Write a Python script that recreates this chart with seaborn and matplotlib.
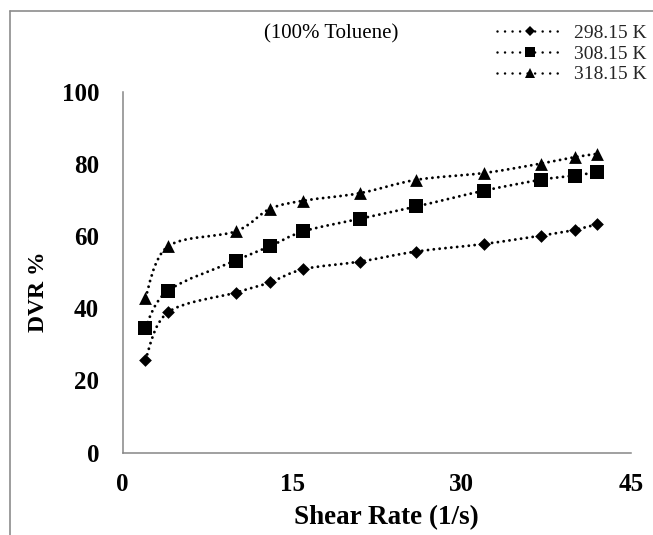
import numpy as np
import pandas as pd
import matplotlib
matplotlib.use("Agg")
import matplotlib.pyplot as plt
import seaborn as sns
from matplotlib.path import Path
from matplotlib.patches import PathPatch
from matplotlib.lines import Line2D

# ---------------- data ----------------
shear_rate = [2, 4, 10, 13, 16, 21, 26, 32, 37, 40, 42]
dvr_298 = [25.7, 38.9, 44.4, 47.2, 50.9, 53.0, 55.8, 57.9, 60.2, 61.8, 63.4]
dvr_308 = [34.7, 44.9, 53.3, 57.2, 61.4, 64.9, 68.3, 72.7, 75.7, 76.9, 77.8]
dvr_318 = [42.9, 57.2, 61.4, 67.6, 69.9, 72.0, 75.7, 77.6, 80.2, 82.0, 82.9]
series_labels = ["298.15 K", "308.15 K", "318.15 K"]
x_ticks = [0, 15, 30, 45]
y_ticks = [0, 20, 40, 60, 80, 100]
title_text = "(100% Toluene)"
x_label = "Shear Rate (1/s)"
y_label = "DVR %"

sns.set_theme(style="white")
plt.rcParams["font.family"] = ["Liberation Serif", "DejaVu Serif"]

series_values = [dvr_298, dvr_308, dvr_318]
df = pd.concat(
    [pd.DataFrame({"x": shear_rate, "y": v, "T": lab}) for v, lab in zip(series_values, series_labels)],
    ignore_index=True,
)

W, H = 653, 535
fig = plt.figure(figsize=(W / 100, H / 100), dpi=100)
ax = fig.add_axes([122.7 / W, 1 - 452.5 / H, (631 - 122.7) / W, (452.5 - 92.3) / H])

marker_map = {"298.15 K": "D", "308.15 K": "s", "318.15 K": "^"}
size_map = {"298.15 K": 42, "308.15 K": 95, "318.15 K": 85}
dot_style = (0, (0.01, 2.0))


def smooth_path(xs, ys):
    pts = np.column_stack([xs, ys]).astype(float)
    n = len(pts)
    verts = [pts[0]]
    codes = [Path.MOVETO]
    for i in range(n - 1):
        p0 = pts[i - 1] if i > 0 else pts[i]
        p1 = pts[i]
        p2 = pts[i + 1]
        p3 = pts[i + 2] if i + 2 < n else pts[i + 1]
        c1 = p1 + (p2 - p0) / 6.0
        c2 = p2 - (p3 - p1) / 6.0
        verts += [c1, c2, p2]
        codes += [Path.CURVE4] * 3
    return Path(verts, codes)


for lab in series_labels:
    sub = df[df["T"] == lab]
    patch = PathPatch(smooth_path(sub["x"].values, sub["y"].values), fill=False,
                      edgecolor="black", linewidth=2.1, linestyle=dot_style,
                      capstyle="round", transform=ax.transData, zorder=2)
    ax.add_patch(patch)
    sns.scatterplot(data=sub, x="x", y="y", marker=marker_map[lab], s=size_map[lab],
                    color="black", linewidth=0, ax=ax, legend=False, zorder=3)

ax.set_xlim(0, 45)
ax.set_ylim(0, 100)
ax.set_xticks(x_ticks)
ax.set_yticks(y_ticks)
ax.set_xticklabels([str(t) for t in x_ticks])
ax.set_yticklabels([str(t) for t in y_ticks])
ax.tick_params(axis="both", length=0, labelsize=18, colors="black")
ax.tick_params(axis="x", pad=15)
ax.tick_params(axis="y", pad=17)
for lbl in ax.get_xticklabels() + ax.get_yticklabels():
    lbl.set_fontweight("bold")

for s in ["top", "right"]:
    ax.spines[s].set_visible(False)
for s in ["left", "bottom"]:
    ax.spines[s].set_color("#868686")
    ax.spines[s].set_linewidth(1.1)
ax.grid(False)
ax.set_facecolor("white")

ax.set_xlabel(x_label, fontsize=19.5, fontweight="bold", color="black")
ax.set_ylabel(y_label, fontsize=17, fontweight="bold", color="black")
ax.xaxis.set_label_coords(0.518, (452.5 - 518) / (452.5 - 92.3))
ax.xaxis.label.set_verticalalignment("center")
ax.yaxis.set_label_coords((38 - 122.7) / (631 - 122.7), 0.446)
ax.yaxis.label.set_verticalalignment("center")

fig.text(331 / W, 1 - 34 / H, title_text, ha="center", va="center", fontsize=15, color="black")

leg_ms = {"298.15 K": 5.4, "308.15 K": 7.2, "318.15 K": 7.6}
handles = [Line2D([0], [0], color="black", lw=1.8, linestyle=(0, (0.01, 3.0)),
                  dash_capstyle="round", marker=marker_map[lab], markersize=leg_ms[lab],
                  markeredgewidth=0, markerfacecolor="black") for lab in series_labels]
fig.legend(handles, series_labels, loc="upper left", bbox_to_anchor=(497 / W, 1 - 24 / H),
           frameon=False, fontsize=14, handlelength=3.4, handletextpad=0.55,
           labelspacing=0.17, borderpad=0, borderaxespad=0)

# outer frame lines (top and left)
fig.add_artist(Line2D([10 / W, 1.0], [1 - 11 / H, 1 - 11 / H], transform=fig.transFigure,
                      color="#8c8c8c", lw=1.2))
fig.add_artist(Line2D([10 / W, 10 / W], [0.0, 1 - 11 / H], transform=fig.transFigure,
                      color="#8c8c8c", lw=1.2))

fig.savefig("out.png", dpi=100, facecolor="white")
